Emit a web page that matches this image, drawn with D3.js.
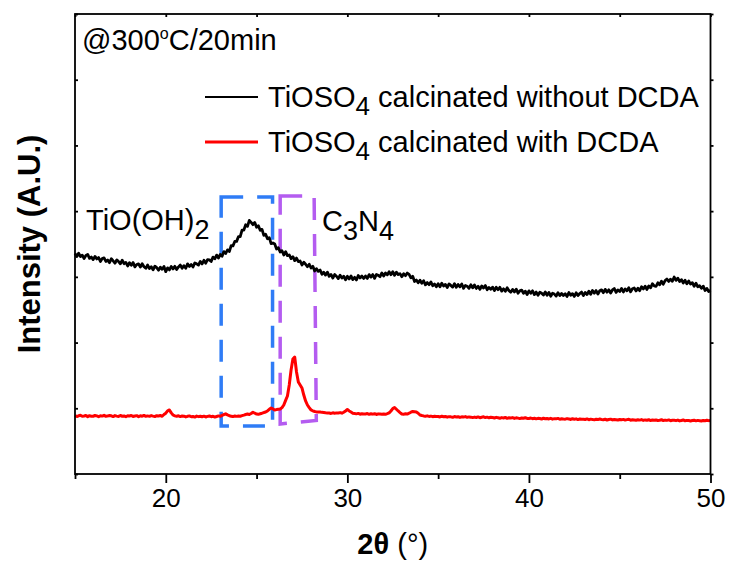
<!DOCTYPE html>
<html>
<head>
<meta charset="utf-8">
<script src="https://cdn.jsdelivr.net/npm/d3@7"></script>
<style>
  body { margin: 0; background: #fff; }
  text { font-family: "Liberation Sans", Arial, Helvetica, sans-serif; fill: #000; }
</style>
</head>
<body>
<svg id="chart" width="730" height="563"></svg>
<script>
// 2θ scan grid (degrees)
const twoThetaStart = 15;
const twoThetaStep = 0.1;

// TiOSO4 calcinated without DCDA, counts at 15.0, 15.1, ... 50.0
const countsWithout = [
  3358,3308,3359,3309,3330,3280,3325,3341,3281,3302,
  3262,3312,3273,3293,3234,3279,3289,3235,3255,3216,
  3276,3242,3207,3258,3233,3199,3254,3200,3220,3166,
  3216,3176,3217,3152,3188,3198,3148,3199,3154,3130,
  3180,3127,3154,3106,3163,3140,3101,3148,3115,3157,
  3079,3137,3105,3158,3121,3160,3113,3151,3179,3132,
  3170,3131,3197,3158,3189,3150,3212,3198,3179,3235,
  3196,3252,3207,3263,3258,3234,3300,3275,3331,3286,
  3342,3315,3384,3357,3411,3384,3475,3472,3538,3540,
  3611,3612,3712,3713,3793,3769,3859,3829,3794,3827,
  3754,3779,3708,3723,3632,3647,3581,3596,3505,3515,
  3499,3424,3443,3378,3398,3333,3383,3323,3333,3277,
  3307,3247,3286,3231,3241,3181,3224,3192,3154,3192,
  3135,3160,3090,3124,3084,3104,3040,3071,3026,3072,
  3008,3037,2981,3035,3009,2973,3025,2982,3009,2956,
  3008,2968,3013,2958,2993,2953,3021,2984,3012,2975,
  3013,2976,3034,2997,3035,2978,3036,3024,3002,3060,
  3013,3059,3030,3077,3033,3079,3023,3072,3035,3049,
  3003,3048,3018,3058,3038,2985,3008,2930,2952,2910,
  2949,2902,2941,2879,2913,2881,2923,2865,2892,2849,
  2896,2849,2903,2861,2885,2838,2892,2870,2844,2897,
  2841,2884,2848,2891,2825,2868,2857,2825,2879,2832,
  2876,2824,2856,2809,2862,2830,2867,2805,2838,2810,
  2843,2790,2842,2804,2841,2783,2819,2781,2833,2790,
  2767,2809,2771,2813,2750,2787,2799,2751,2783,2730,
  2787,2750,2787,2730,2768,2721,2768,2751,2724,2771,
  2719,2763,2706,2750,2738,2707,2760,2714,2747,2716,
  2744,2701,2762,2719,2745,2702,2758,2715,2746,2768,
  2714,2763,2732,2780,2734,2793,2752,2791,2739,2788,
  2802,2759,2810,2767,2803,2755,2801,2823,2764,2801,
  2777,2824,2770,2817,2788,2835,2772,2818,2830,2786,
  2828,2789,2850,2816,2857,2808,2861,2833,2896,2863,
  2856,2910,2879,2934,2888,2942,2966,2930,2964,2933,
  2997,2946,2980,2929,2958,2907,2948,2894,2939,2890,
  2911,2857,2903,2849,2865,2826,2859,2792,2824,2777,
  2795
];

// TiOSO4 calcinated with DCDA, counts at 15.0, 15.1, ... 50.0
const countsWith = [
  888,875,886,893,878,883,891,873,887,880,
  879,890,884,872,887,881,893,877,884,889,
  885,874,889,881,876,890,879,884,872,887,
  883,891,876,882,888,873,886,880,892,878,
  884,877,889,881,875,887,882,890,879,905,
  925,962,975,930,898,884,878,886,874,882,
  880,869,878,884,871,876,866,881,873,879,
  871,880,868,877,883,872,879,866,875,884,
  878,892,905,915,900,886,880,874,883,877,
  883,879,888,896,905,912,905,920,940,925,
  913,908,917,925,935,943,960,985,1004,990,
  974,980,985,989,1010,1050,1120,1187,1354,1583,
  1750,1780,1552,1400,1354,1309,1202,1111,1050,1010,
  974,962,951,945,943,943,938,935,931,928,
  928,922,931,925,930,928,934,926,940,959,
  981,960,943,925,920,915,922,910,918,913,
  913,920,908,916,911,918,906,915,912,909,
  914,908,918,930,959,995,1012,985,959,935,
  913,910,916,912,925,940,951,948,943,925,
  898,890,884,879,885,876,881,872,878,875,
  875,868,879,871,876,865,873,870,862,874,
  868,872,861,870,866,874,862,869,865,858,
  866,860,869,857,864,870,859,865,855,863,
  860,852,862,856,849,858,853,861,847,855,
  852,858,846,855,850,843,853,848,856,845,
  845,851,842,848,839,847,844,836,849,841,
  844,838,847,835,842,839,846,833,840,837,
  835,843,838,830,841,834,839,828,837,832,
  834,829,838,826,835,831,824,833,828,836,
  830,825,833,822,829,835,823,830,826,821,
  829,824,831,820,827,833,819,826,822,818,
  825,820,828,816,823,818,826,814,821,817,
  822,815,819,826,813,820,816,823,811,818,
  817,812,820,808,815,822,810,816,813,807,
  814,818,809,816,811,806,815,810,817,812,
  814
];

// Axis ticks
const xMajorTicks = [20, 30, 40, 50];
const xMinorTicks = [15, 25, 35, 45];
const xTopTicks = [15, 20, 25, 30, 35, 40, 45, 50];
const yTicks = [0, 1000, 2000, 3000, 4000, 5000, 6000, 7000];

// Legend entries
const seriesColors = ["#000000", "#ff0000"];
const seriesWidths = [2.8, 3];
const legendWidths = [2, 3];
const seriesSuffixes = [" calcinated without DCDA", " calcinated with DCDA"];

// Phase regions (2θ range, counts range)
const tioohBox = { x0: 23.05, x1: 25.88, y0: 730, y1: 4215 };
const c3n4Box = [[26.30, 4230], [28.17, 4230], [28.29, 814], [26.30, 761]];

const svg = d3.select("#chart");
const margin = { left: 75, right: 19.5, top: 14, bottom: 89 };
const W = 730, H = 563;

const x = d3.scaleLinear().domain([15, 50]).range([margin.left, W - margin.right]);
const y = d3.scaleLinear().domain([0, 7000]).range([H - margin.bottom, margin.top]);

const angle = i => twoThetaStart + i * twoThetaStep;
const line = d3.line().x((d, i) => x(angle(i))).y(d => y(d));

// Phase region outlines
svg.append("rect")
  .attr("x", x(tioohBox.x0)).attr("y", y(tioohBox.y1))
  .attr("width", x(tioohBox.x1) - x(tioohBox.x0))
  .attr("height", y(tioohBox.y0) - y(tioohBox.y1))
  .attr("fill", "none").attr("stroke", "#2f7cf6")
  .attr("stroke-width", 3.5).attr("stroke-dasharray", "22,14");

svg.append("path")
  .attr("d", d3.line().x(d => x(d[0])).y(d => y(d[1]))(c3n4Box) + "Z")
  .attr("fill", "none").attr("stroke", "#b45cf0")
  .attr("stroke-width", 3.5).attr("stroke-dasharray", "22,14");

// Patterns
svg.append("path").datum(countsWithout)
  .attr("d", line).attr("fill", "none")
  .attr("stroke", seriesColors[0]).attr("stroke-width", seriesWidths[0])
  .attr("stroke-linejoin", "round");

svg.append("path").datum(countsWith)
  .attr("d", line).attr("fill", "none")
  .attr("stroke", seriesColors[1]).attr("stroke-width", seriesWidths[1])
  .attr("stroke-linejoin", "round");

// Frame
svg.append("rect")
  .attr("x", margin.left).attr("y", margin.top)
  .attr("width", W - margin.left - margin.right)
  .attr("height", H - margin.top - margin.bottom)
  .attr("fill", "none").attr("stroke", "#000").attr("stroke-width", 1.8);

const bottomY = H - margin.bottom;
const gMajor = svg.append("g").attr("transform", `translate(0,${bottomY})`)
  .call(d3.axisBottom(x).tickValues(xMajorTicks).tickSize(9).tickPadding(6).tickFormat(d3.format("d")));
const gMinor = svg.append("g").attr("transform", `translate(0,${bottomY})`)
  .call(d3.axisBottom(x).tickValues(xMinorTicks).tickSize(5).tickFormat(""));
const gTop = svg.append("g").attr("transform", `translate(0,${margin.top})`)
  .call(d3.axisTop(x).tickValues(xTopTicks).tickSize(-3).tickFormat(""));
const gLeft = svg.append("g").attr("transform", `translate(${margin.left},0)`)
  .call(d3.axisLeft(y).tickValues(yTicks).tickSize(-3).tickFormat(""));
const gRight = svg.append("g").attr("transform", `translate(${W - margin.right},0)`)
  .call(d3.axisRight(y).tickValues(yTicks).tickSize(3).tickFormat(""));

[gMajor, gMinor, gTop, gLeft, gRight].forEach(g => {
  g.select(".domain").remove();
  g.selectAll(".tick line").attr("stroke", "#000").attr("stroke-width", 1.8);
});
gMajor.selectAll(".tick text")
  .style("font-family", '"Liberation Sans", Arial, sans-serif')
  .style("font-size", "26px").attr("fill", "#000");

// Axis titles
const xTitle = svg.append("text")
  .attr("x", (margin.left + W - margin.right) / 2).attr("y", 554)
  .attr("text-anchor", "middle").style("font-size", "29px");
xTitle.append("tspan").style("font-weight", "bold").text("2θ");
xTitle.append("tspan").text(" (°)");

svg.append("text")
  .attr("transform", `translate(40,${(margin.top + bottomY) / 2}) rotate(-90)`)
  .attr("text-anchor", "middle").style("font-size", "31px").style("font-weight", "bold")
  .text("Intensity (A.U.)");

// Condition note
const note = svg.append("text").attr("x", 82).attr("y", 50).style("font-size", "29px");
note.append("tspan").text("@300");
note.append("tspan").attr("dy", -11).style("font-size", "16px").text("o");
note.append("tspan").attr("dy", 11).text("C/20min");

// Legend
const legendRowY = [97, 142];
seriesSuffixes.forEach((suffix, i) => {
  const ly = legendRowY[i];
  svg.append("line")
    .attr("x1", 205).attr("x2", 258).attr("y1", ly).attr("y2", ly)
    .attr("stroke", seriesColors[i]).attr("stroke-width", legendWidths[i]);
  const t = svg.append("text").attr("x", 268).attr("y", ly + 10).style("font-size", "29px");
  t.append("tspan").text("TiOSO");
  t.append("tspan").attr("dy", 8).style("font-size", "26px").text("4");
  t.append("tspan").attr("dy", -8).text(suffix);
});

// Phase labels
const lab1 = svg.append("text").attr("x", 86).attr("y", 230).style("font-size", "29px");
lab1.append("tspan").text("TiO(OH)");
lab1.append("tspan").attr("dy", 9).style("font-size", "27px").text("2");

const lab2 = svg.append("text").attr("x", 322).attr("y", 231).style("font-size", "29px");
lab2.append("tspan").text("C");
lab2.append("tspan").attr("dy", 9).style("font-size", "27px").text("3");
lab2.append("tspan").attr("dy", -9).text("N");
lab2.append("tspan").attr("dy", 9).style("font-size", "27px").text("4");
</script>
</body>
</html>
